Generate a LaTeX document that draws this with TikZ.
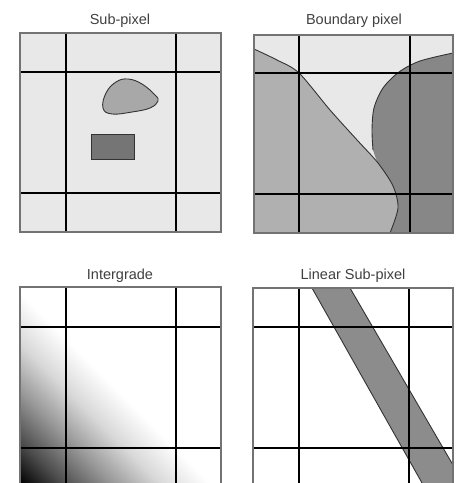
\documentclass[tikz,border=0pt]{standalone}
\usepackage{fontspec}
\setmainfont{Liberation Sans}

\definecolor{cellgray}{gray}{0.91}
\definecolor{blobgray}{gray}{0.66}
\definecolor{boxgray}{gray}{0.46}
\definecolor{leftgray}{gray}{0.69}
\definecolor{rightgray}{gray}{0.53}
\definecolor{bandgray}{gray}{0.55}
\definecolor{framegray}{gray}{0.45}

\pgfdeclarehorizontalshading{intergrade}{100bp}{color(0bp)=(black); color(50bp)=(black); color(52.5bp)=(black!70); color(55.5bp)=(black!40); color(58.3bp)=(black!15); color(61.3bp)=(white); color(100bp)=(white)}

\tikzset{
    title/.style={anchor=base, font=\fontsize{14.5}{17}\selectfont, text=black!75},
    gridline/.style={line width=1.9pt, black},
    frame/.style={line width=1.3pt, draw=framegray},
    edge/.style={line width=0.9pt, draw=black!80}
}

\begin{document}
\begin{tikzpicture}[x=1pt, y=-1pt]
        \clip (0,0) rectangle (458,483);
        \fill[white] (0,0) rectangle (458,483);
        % sub-pixel
        \node[title] (subtitle) at (120,24) {Sub-pixel};
        \fill[cellgray] (20,33) rectangle (221,232);
        \filldraw[fill=blobgray, edge] plot[smooth cycle, tension=0.7] coordinates {(103,108) (106,93) (116,82) (128,79) (142,84) (155,95) (158,101) (150,108) (132,112) (112,114)};
        \filldraw[fill=boxgray, edge] (91,134) rectangle (134,159);
        \draw[gridline] (66,33) -- (66,232);
        \draw[gridline] (176,33) -- (176,232);
        \draw[gridline] (20,72) -- (221,72);
        \draw[gridline] (20,193) -- (221,193);
        \draw[frame] (20,33) rectangle (221,232);
        % boundary pixel
        \node[title] (boundtitle) at (354,24) {Boundary pixel};
        \fill[cellgray] (254,35) rectangle (453,233);
        \fill[leftgray] plot[smooth] coordinates {(254,49) (277,60) (299,73) (330,110) (358,141) (378,163) (393,186) (398,208) (390,233)} -- (254,233) -- cycle;
        \fill[rightgray] plot[smooth] coordinates {(453,53) (420,61) (399,72) (383,88) (374,108) (372,130) (373,150)} -- plot[smooth] coordinates {(373,150) (378,163) (393,186) (398,208) (390,233)} -- (453,233) -- cycle;
        \draw[edge] plot[smooth] coordinates {(254,49) (277,60) (299,73) (330,110) (358,141) (378,163) (393,186) (398,208) (390,233)};
        \draw[edge] plot[smooth] coordinates {(453,53) (420,61) (399,72) (383,88) (374,108) (372,130) (373,150)};
        \draw[gridline] (299,35) -- (299,233);
        \draw[gridline] (410,35) -- (410,233);
        \draw[gridline] (254,73) -- (453,73);
        \draw[gridline] (254,194) -- (453,194);
        \draw[frame] (254,35) rectangle (453,233);
        % intergrade
        \node[title] (intertitle) at (120,279) {Intergrade};
        \begin{scope}
            \clip (20,287) rectangle (221,490);
            \shade[shading=intergrade, shading angle=45] (-280,183) rectangle (320,783);
        \end{scope}
        \draw[gridline] (66,287) -- (66,490);
        \draw[gridline] (176,287) -- (176,490);
        \draw[gridline] (20,327) -- (221,327);
        \draw[gridline] (20,448) -- (221,448);
        \draw[frame] (20,490) -- (20,287) -- (221,287) -- (221,490);
        % linear sub-pixel
        \node[title] (lintitle) at (353,279) {Linear Sub-pixel};
        \filldraw[fill=bandgray, edge] (312,288) -- (350,288) -- (453,465) -- (453,490) -- (426,490) -- cycle;
        \draw[gridline] (299,288) -- (299,490);
        \draw[gridline] (409,288) -- (409,490);
        \draw[gridline] (253,327) -- (453,327);
        \draw[gridline] (253,448) -- (453,448);
        \draw[frame] (253,490) -- (253,288) -- (453,288) -- (453,490);
    \end{tikzpicture}
\end{document}
